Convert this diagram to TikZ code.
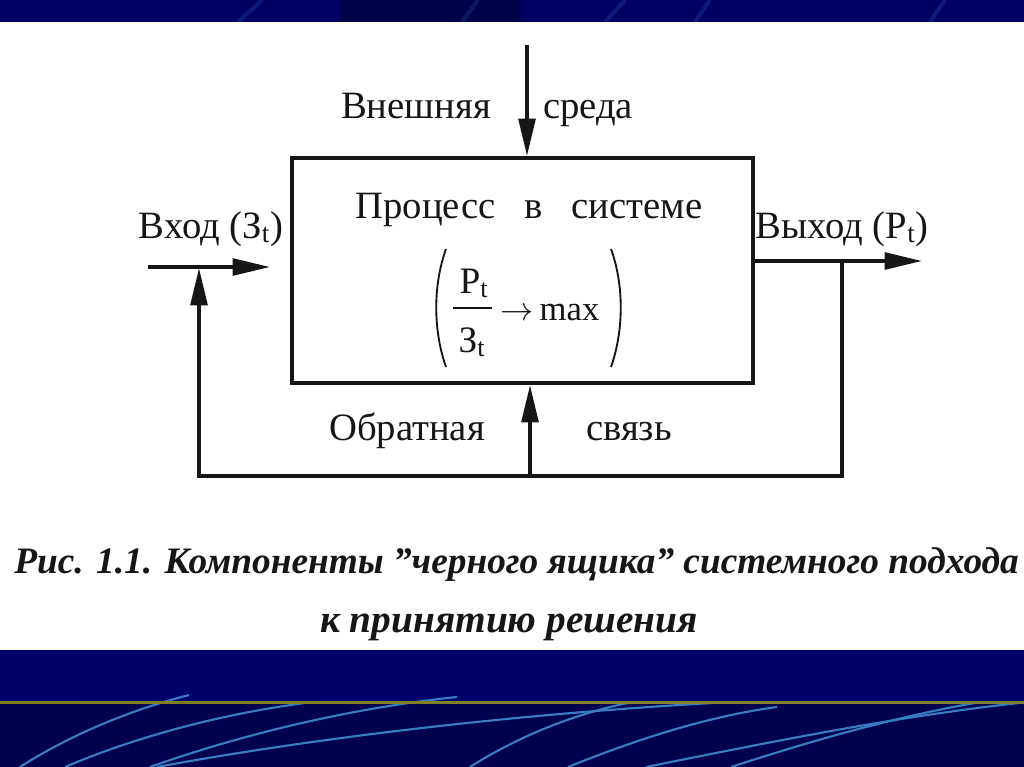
\documentclass[tikz,border=0pt]{standalone}
\usepackage{fontspec}
\setmainfont{Liberation Serif}
\usetikzlibrary{arrows.meta}
\definecolor{ink}{RGB}{22,22,22}
\definecolor{navytop}{RGB}{0,0,100}
\definecolor{navydark}{RGB}{0,0,72}
\definecolor{navyband}{RGB}{0,0,108}
\definecolor{navylow}{RGB}{0,0,78}
\definecolor{streak}{RGB}{40,80,160}
\definecolor{curveblue}{RGB}{55,125,195}
\definecolor{glow}{RGB}{185,225,105}
\begin{document}
\begin{tikzpicture}[x=0.75pt,y=-0.75pt,
  lbl/.style={font=\fontsize{29}{34}\selectfont, text=ink, inner sep=0pt},
  frm/.style={font=\fontsize{28}{32}\selectfont, text=ink, inner sep=0pt},
  captxt/.style={font=\fontsize{28}{32}\selectfont\bfseries\itshape, text=ink, inner sep=0pt},
  wire/.style={line width=2.8pt, draw=ink},
  arr/.style={wire, -{Triangle[length=28pt,width=12.5pt]}},
  bgcurve/.style={draw=curveblue, line width=1.6pt},
  bgstreak/.style={draw=streak, line width=3pt, opacity=0.35}]
\useasboundingbox (0,0) rectangle (1024,767);
% ---- background ----
\fill[navytop] (0,0) rectangle (1024,22);
\fill[navydark] (340,0) rectangle (520,22);
\draw[bgstreak] (238,22) -- (262,0);
\draw[bgstreak] (462,22) -- (478,0);
\draw[bgstreak] (605,22) -- (625,0);
\draw[bgstreak] (695,22) -- (710,0);
\draw[bgstreak] (930,22) -- (945,0);
\fill[white] (0,22) rectangle (1024,650);
\fill[navyband] (0,650) rectangle (1024,701);
\fill[navylow] (0,703) rectangle (1024,767);
\draw[bgcurve] (20,767) .. controls (70,735) and (130,710) .. (189,695);
\draw[bgcurve] (65,767) .. controls (140,735) and (230,712) .. (313,702);
\draw[bgcurve] (150,767) .. controls (240,735) and (350,708) .. (457,697);
\draw[bgcurve] (157,767) .. controls (330,735) and (540,712) .. (731,702);
\draw[bgcurve] (470,767) .. controls (520,735) and (580,712) .. (633,702);
\draw[bgcurve] (568,767) .. controls (640,738) and (710,716) .. (777,707);
\draw[bgcurve] (646,767) .. controls (780,740) and (900,716) .. (1019,703);
\draw[bgcurve] (731,767) .. controls (820,738) and (900,716) .. (980,702);
\shade[left color=gray!60!olive, middle color=glow, right color=gray!70!olive] (0,701) rectangle (1024,703.5);
% ---- box ----
\node[draw=ink, line width=3pt, minimum width=345.75pt, minimum height=168.75pt, inner sep=0pt] (box) at (522.5,270.5) {};
% ---- labels ----
\node[lbl, anchor=base] (ext1) at (416,118) {Внешняя};
\node[lbl, anchor=base] (ext2) at (588,118) {среда};
\node[lbl, anchor=base] (proc) at (529,218) {Процесс\hspace{0.75em}в\hspace{0.75em}системе};
\node[lbl, anchor=base] (inlbl) at (211,238) {Вход (З\textsubscript{t})};
\node[lbl, anchor=base] (outlbl) at (842,238) {Выход (P\textsubscript{t})};
\node[lbl, anchor=base] (fb1) at (407,440) {Обратная};
\node[lbl, anchor=base] (fb2) at (629,440) {связь};
% ---- formula ----
\node[frm, anchor=base] (num) at (474,293) {P\textsubscript{t}};
\node[frm, anchor=base] (den) at (472,352) {З\textsubscript{t}};
\draw[draw=ink, line width=1.1pt] (453,308) -- (492,308);
\node[frm, anchor=base west] (mx) at (500,320) {$\rightarrow$\,{\fontsize{26}{30}\selectfont max}};
\draw[draw=ink, line width=1.4pt] (446,249) .. controls (433,285) and (433,330) .. (446,367);
\draw[draw=ink, line width=1.4pt] (611,249) .. controls (624,285) and (624,330) .. (611,367);
% ---- connectors ----
\coordinate (envtop) at (527,45);
\draw[arr] (envtop) -- (envtop |- box.north);
\coordinate (instart) at (148,267);
\coordinate (intip) at (270,267);
\draw[arr] (instart) -- (intip);
\coordinate (outtip) at (922,261);
\draw[arr] (box.east |- outtip) -- (outtip);
\coordinate (tapR) at (842,261);
\coordinate (fbBL) at (199,476);
\coordinate (fbtip) at (199,268);
\draw[arr] (tapR) |- (fbBL) -- (fbtip);
\coordinate (fbmid) at (530,476);
\draw[arr] (fbmid) -- (fbmid |- box.south);
% ---- caption ----
\node[captxt, anchor=base west] (cap1) at (14,573) {Рис. 1.1. Компоненты "черного ящика" системного подхода};
\node[captxt, font=\fontsize{29.5}{33}\selectfont\bfseries\itshape, anchor=base] (cap2) at (509,632) {к принятию решения};
\end{tikzpicture}
\end{document}
